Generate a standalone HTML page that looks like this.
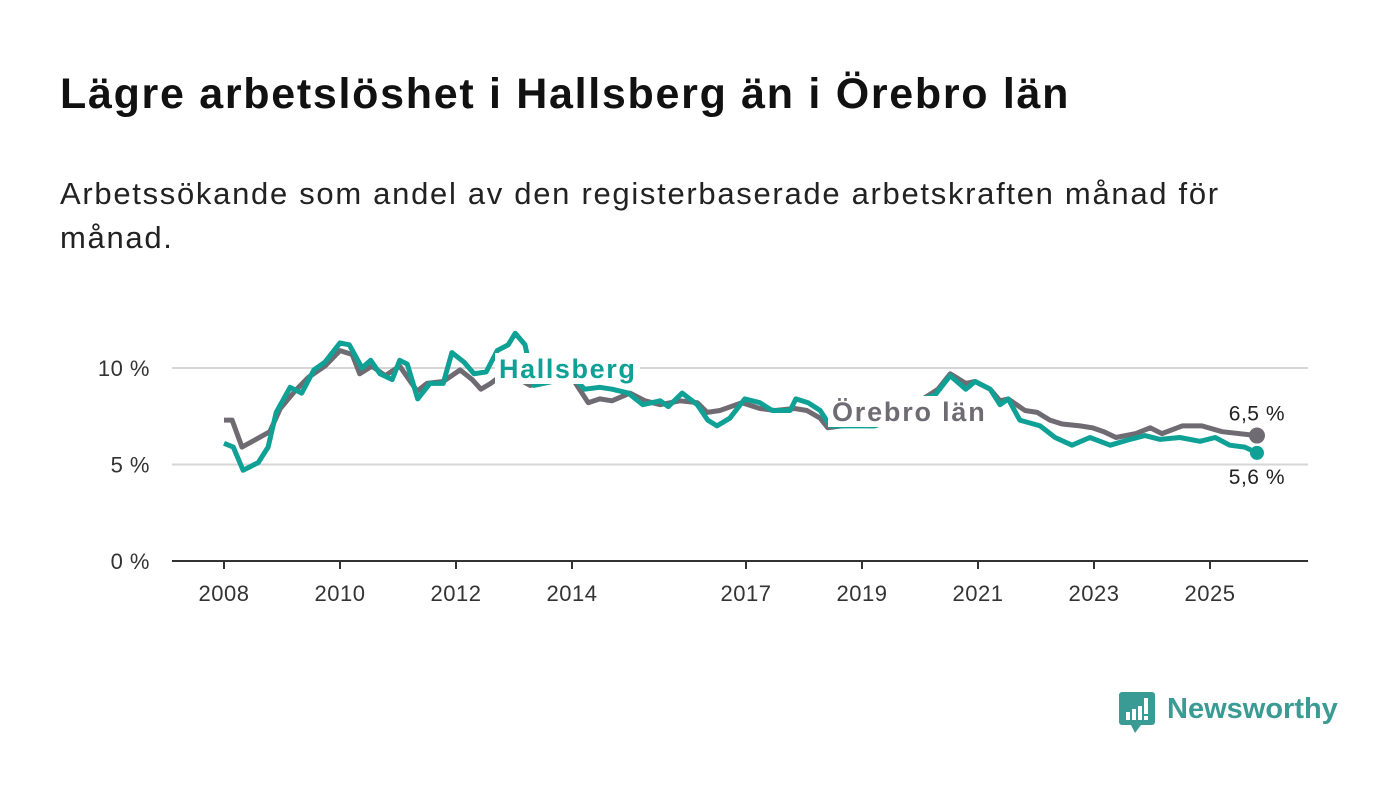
<!DOCTYPE html>
<html><head><meta charset="utf-8"><style>
body{margin:0;background:#fff;width:1400px;height:794px;overflow:hidden;font-family:"Liberation Sans",sans-serif;}
#title{position:absolute;left:60px;top:70px;font-size:43px;letter-spacing:1.7px;font-weight:bold;color:#111;margin:0;white-space:nowrap;}
#sub{position:absolute;left:60px;top:172px;font-size:31px;letter-spacing:1.7px;line-height:44px;color:#222;width:1200px;}
svg{position:absolute;left:0;top:0;}
</style></head><body>
<h1 id="title">Lägre arbetslöshet i Hallsberg än i Örebro län</h1>
<div id="sub">Arbetssökande som andel av den registerbaserade arbetskraften månad för månad.</div>
<svg id="chart" width="1400" height="794"></svg>
<script>
const hallYears=[2008.00,2008.16,2008.33,2008.59,2008.76,2008.90,2009.14,2009.34,2009.55,2009.74,2010.00,2010.16,2010.38,2010.53,2010.69,2010.90,2011.03,2011.16,2011.34,2011.55,2011.78,2011.93,2012.14,2012.31,2012.52,2012.71,2012.90,2013.02,2013.19,2013.34,2013.66,2013.84,2014.05,2014.22,2014.48,2014.69,2014.97,2015.22,2015.52,2015.66,2015.90,2016.16,2016.34,2016.50,2016.72,2016.98,2017.24,2017.45,2017.76,2017.86,2018.07,2018.28,2018.45,2018.83,2019.22,2019.52,2019.74,2019.95,2020.26,2020.52,2020.79,2020.95,2021.21,2021.38,2021.52,2021.72,2022.07,2022.33,2022.62,2022.93,2023.28,2023.62,2023.88,2024.14,2024.48,2024.83,2025.09,2025.34,2025.60,2025.81];
const hallValues=[6.1,5.9,4.7,5.1,5.9,7.7,9.0,8.7,9.9,10.3,11.3,11.2,10.0,10.4,9.7,9.4,10.4,10.2,8.4,9.2,9.2,10.8,10.3,9.7,9.8,10.9,11.2,11.8,11.2,9.1,9.3,9.6,9.4,8.9,9.0,8.9,8.7,8.1,8.3,8.0,8.7,8.1,7.3,7.0,7.4,8.4,8.2,7.8,7.8,8.4,8.2,7.8,7.0,7.0,7.0,7.3,7.8,8.3,8.6,9.6,8.9,9.3,8.9,8.1,8.4,7.3,7.0,6.4,6.0,6.4,6.0,6.3,6.5,6.3,6.4,6.2,6.4,6.0,5.9,5.6];
const oreYears=[2008.00,2008.14,2008.31,2008.55,2008.79,2008.97,2009.22,2009.45,2009.74,2010.00,2010.21,2010.34,2010.55,2010.78,2011.03,2011.33,2011.50,2011.78,2012.07,2012.28,2012.43,2012.60,2012.86,2013.28,2013.55,2013.84,2014.02,2014.28,2014.48,2014.69,2015.00,2015.26,2015.52,2015.86,2016.16,2016.33,2016.55,2016.93,2017.24,2017.50,2017.84,2018.05,2018.28,2018.41,2018.88,2019.17,2019.40,2019.66,2020.00,2020.31,2020.52,2020.79,2020.95,2021.21,2021.38,2021.52,2021.81,2022.02,2022.24,2022.45,2022.76,2022.97,2023.17,2023.38,2023.72,2023.97,2024.17,2024.52,2024.86,2025.21,2025.81];
const oreValues=[7.3,7.3,5.9,6.3,6.7,7.9,8.8,9.5,10.1,10.9,10.7,9.7,10.1,9.6,10.1,8.8,9.2,9.3,9.9,9.4,8.9,9.2,9.8,9.1,9.3,9.5,9.4,8.2,8.4,8.3,8.7,8.3,8.1,8.3,8.2,7.7,7.8,8.2,7.9,7.8,7.9,7.8,7.4,6.9,7.1,7.0,7.3,7.8,8.3,8.9,9.7,9.2,9.3,8.9,8.3,8.4,7.8,7.7,7.3,7.1,7.0,6.9,6.7,6.4,6.6,6.9,6.6,7.0,7.0,6.7,6.5];
const xTicks=[2008,2010,2012,2014,2017,2019,2021,2023,2025];
const yTicks=[0,5,10];
const yTickLabels=["0 %","5 %","10 %"];
const endLabels=["6,5 %","5,6 %"];

const NS="http://www.w3.org/2000/svg";
const svg=document.getElementById('chart');
const x=y=>224+(y-2008)*58;
const yS=v=>561-v*19.3;
function el(t,a,p){const e=document.createElementNS(NS,t);for(const k in a)e.setAttribute(k,a[k]);(p||svg).appendChild(e);return e;}
yTicks.forEach((t,i)=>{
  if(t>0){const g=el('line',{x1:172,x2:1308,y1:yS(t),y2:yS(t),stroke:'#d6d6d6','stroke-width':2});
  
  }
  const tx=el('text',{x:150,y:yS(t)+8,'text-anchor':'end','font-size':22,'letter-spacing':0.5,fill:'#333','font-family':'Liberation Sans, sans-serif'});
  tx.textContent=yTickLabels[i];
  
  
});
const ax=el('line',{x1:172,x2:1308,y1:561,y2:561,stroke:'#333','stroke-width':2});


xTicks.forEach(t=>{
  const tk=el('line',{x1:x(t),x2:x(t),y1:561,y2:569,stroke:'#333','stroke-width':2});
  
  
  const tx=el('text',{x:x(t),y:601,'text-anchor':'middle','font-size':22,'letter-spacing':0.5,fill:'#333','font-family':'Liberation Sans, sans-serif'});
  tx.textContent=t;
  
  
});
function line(xs,vs,c,name){
  const d=xs.map((t,i)=>(i?'L':'M')+x(t).toFixed(1)+','+yS(vs[i]).toFixed(1)).join('');
  const p=el('path',{d:d,fill:'none',stroke:c,'stroke-width':5,'stroke-linejoin':'round'});
  
  
}
line(oreYears,oreValues,'#6e6c72','line-orebro-lan');
line(hallYears,hallValues,'#0fa195','line-hallsberg');
function label(txt,lx,ly,w,c,ls,name){
  const r=el('rect',{x:lx-4,y:ly-25,width:w,height:31,fill:'#fff'});
  
  
  const t=el('text',{x:lx,y:ly,'font-size':27,'letter-spacing':ls,'font-weight':'bold',fill:c,'font-family':'Liberation Sans, sans-serif'});
  t.textContent=txt;
  
  
}
label('Hallsberg',499,378,145,'#0fa195',1.6,'label-hallsberg');
label('Örebro län',832,421,162,'#6e6c72',1.8,'label-orebro-lan');
const oL=oreYears.length-1,hL=hallYears.length-1;
const d1=el('circle',{cx:x(oreYears[oL]),cy:yS(oreValues[oL]),r:8,fill:'#6e6c72'});


const d2=el('circle',{cx:x(hallYears[hL]),cy:yS(hallValues[hL]),r:7,fill:'#0fa195'});


const e1=el('text',{x:1285,y:yS(oreValues[oL])-15,'text-anchor':'end','font-size':21,'letter-spacing':0.5,fill:'#222','font-family':'Liberation Sans, sans-serif'});
e1.textContent=endLabels[0];


const e2=el('text',{x:1285,y:yS(hallValues[hL])+31,'text-anchor':'end','font-size':21,'letter-spacing':0.5,fill:'#222','font-family':'Liberation Sans, sans-serif'});
e2.textContent=endLabels[1];


</script>
<div style="position:absolute;left:1119px;top:692px;display:flex;align-items:center;">
  <svg width="36" height="42" style="position:relative">
    <path d="M3 0H33a3 3 0 0 1 3 3V30a3 3 0 0 1-3 3H22L16 41L12 33H3a3 3 0 0 1-3-3V3a3 3 0 0 1 3-3Z" fill="#3a9a94"/>
    <rect x="7" y="20" width="4" height="8" fill="#fff"/><rect x="13" y="17" width="4" height="11" fill="#fff"/><rect x="19" y="14" width="4" height="14" fill="#fff"/><rect x="25" y="6" width="4" height="16" fill="#fff"/><rect x="25" y="24" width="4" height="4" fill="#fff"/>
  </svg>
  <span style="font-size:29px;font-weight:bold;color:#3a9a94;margin-left:12px;margin-top:-8px;">Newsworthy</span>
</div>
</body></html>
